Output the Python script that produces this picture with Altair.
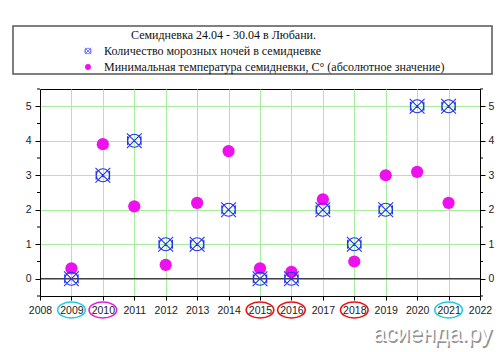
import altair as alt
import pandas as pd

years = [2009, 2010, 2011, 2012, 2013, 2014, 2015, 2016, 2017, 2018, 2019, 2020, 2021]
frost_nights = [0, 3, 4, 1, 1, 2, 0, 0, 2, 1, 2, 5, 5]
min_temp_abs = [0.3, 3.9, 2.1, 0.4, 2.2, 3.7, 0.3, 0.2, 2.3, 0.5, 3.0, 3.1, 2.2]

x_ticks = list(range(2008, 2023))
y_ticks = [0, 1, 2, 3, 4, 5]
y_minor = [-0.5, 0.5, 1.5, 2.5, 3.5, 4.5, 5.5]

hl_years = [2009, 2010, 2015, 2016, 2018, 2021]
hl_group = ["a", "b", "c", "c", "c", "a"]

legend_title = "Семидневка 24.04 - 30.04 в Любани."
legend_labels = ["Количество морозных ночей в семидневке",
                 "Минимальная температура семидневки, С° (абсолютное значение)"]
watermark = "асиенда.ру"

df = pd.DataFrame({"year": years, "frost": frost_nights, "tmin": min_temp_abs})
df_hl = pd.DataFrame({"year": hl_years, "g": hl_group})

W, H = 440, 207
GRID = "#a6ee9e"
FONT = "Liberation Sans"
SERIF = "Liberation Serif"

xs = alt.Scale(domain=[2008, 2022], nice=False, zero=False)
ys = alt.Scale(domain=[-0.5, 5.5], nice=False, zero=False)

x_axis = alt.Axis(values=x_ticks, format="d", grid=True, gridColor=GRID, gridWidth=1,
                  domainColor="black", tickColor="black", tickSize=4,
                  labelFont=FONT, labelFontSize=10.5, labelColor="#222", labelPadding=5,
                  labelOverlap=False, labelBound=False, labelFlush=False,
                  title=None)
X = alt.X("year:Q", scale=xs, axis=x_axis)

left_axis = alt.Axis(values=y_ticks, grid=True, gridColor=GRID, gridWidth=1,
                     domainColor="black", tickColor="black", tickSize=5,
                     labelFont=FONT, labelFontSize=10.5, labelColor="#222", labelPadding=4,
                     labelOverlap=False, title=None, orient="left")
right_axis = alt.Axis(values=y_ticks, grid=False,
                      domainColor="black", tickColor="black", tickSize=5,
                      labelFont=FONT, labelFontSize=10.5, labelColor="#222", labelPadding=3,
                      labelOverlap=False, title=None, orient="right")

base = alt.Chart(df)

grid_left = base.mark_point(opacity=0).encode(
    x=X, y=alt.Y("frost:Q", scale=ys, axis=left_axis))
grid_right = base.mark_point(opacity=0).encode(
    x=X, y=alt.Y("frost:Q", scale=ys, axis=right_axis))

zero_line = alt.Chart(pd.DataFrame({"v": [0]})).mark_rule(color="black", strokeWidth=1).encode(
    y=alt.Y("v:Q", scale=ys, axis=None))

minor_l = alt.Chart(pd.DataFrame({"v": y_minor})).mark_rule(color="black", strokeWidth=1).encode(
    y=alt.Y("v:Q", scale=ys, axis=None), x=alt.value(-3), x2=alt.value(0))
minor_r = alt.Chart(pd.DataFrame({"v": y_minor})).mark_rule(color="black", strokeWidth=1).encode(
    y=alt.Y("v:Q", scale=ys, axis=None), x=alt.value(W), x2=alt.value(W + 3))

tmin_pts = base.mark_point(shape="circle", filled=True, color="#ee11ee", opacity=1, size=150).encode(
    x=X, y=alt.Y("tmin:Q", scale=ys, axis=None))

frost_shape = ("M -0.9 -0.9 L 0.9 0.9 M -0.9 0.9 L 0.9 -0.9 "
               "M -0.8 0 A 0.8 0.8 0 1 1 0.8 0 A 0.8 0.8 0 1 1 -0.8 0 "
               "M -0.82 -0.55 L -0.82 0.55 M 0.82 -0.55 L 0.82 0.55")
frost_pts = base.mark_point(shape=frost_shape, filled=False, color="#2233ee", strokeWidth=1.1,
                            opacity=1, size=270).encode(
    x=X, y=alt.Y("frost:Q", scale=ys, axis=None))

ellipse = "M -1 0 A 1 0.58 0 1 0 1 0 A 1 0.58 0 1 0 -1 0"
hl = alt.Chart(df_hl).mark_point(shape=ellipse, filled=False, strokeWidth=1.6, opacity=1,
                                 size=760).encode(
    x=X, y=alt.value(H + 14),
    color=alt.Color("g:N", scale=alt.Scale(domain=["a", "b", "c"],
                                           range=["#22ccdd", "#dd22dd", "#ee1111"]),
                    legend=None))

# legend box (drawn above the plot)
legend_box = alt.Chart(pd.DataFrame({"t": [legend_title]})).mark_rect(
    fill="white", stroke="#555", strokeWidth=1.5).encode(
    x=alt.value(-27), x2=alt.value(452), y=alt.value(-63), y2=alt.value(-15))
legend_t = alt.Chart(pd.DataFrame({"t": [legend_title]})).mark_text(
    font=SERIF, fontSize=12, color="#111", align="left", baseline="middle").encode(
    x=alt.value(91), y=alt.value(-54), text="t:N")
legend_l = alt.Chart(pd.DataFrame({"t": legend_labels, "yy": [-38, -22]})).mark_text(
    font=SERIF, fontSize=12, color="#111", align="left", baseline="middle").encode(
    x=alt.value(64), y=alt.Y("yy:Q", scale=alt.Scale(domain=[0, 1], range=[0, 1]), axis=None),
    text="t:N")
legend_m1 = alt.Chart(pd.DataFrame({"t": [legend_labels[0]]})).mark_point(
    shape=frost_shape, filled=False, color="#7777ff", strokeWidth=1, opacity=1, size=50).encode(
    x=alt.value(48), y=alt.value(-38))
legend_m2 = alt.Chart(pd.DataFrame({"t": [legend_labels[1]]})).mark_point(
    shape="circle", filled=True, color="#ee11ee", opacity=1, size=35).encode(
    x=alt.value(48), y=alt.value(-22))

wm_shadow = alt.Chart(pd.DataFrame({"t": [watermark]})).mark_text(
    font=FONT, fontSize=23, color="#777", align="right", baseline="middle",
    opacity=0.8, dx=1.5, dy=1.5).encode(
    x=alt.value(452), y=alt.value(245), text="t:N")
wm = alt.Chart(pd.DataFrame({"t": [watermark]})).mark_text(
    font=FONT, fontSize=23, color="white", align="right", baseline="middle").encode(
    x=alt.value(452), y=alt.value(245), text="t:N")

chart = alt.layer(
    grid_left, grid_right, zero_line, minor_l, minor_r, tmin_pts, frost_pts, hl,
    legend_box, legend_t, legend_l, legend_m1, legend_m2, wm_shadow, wm
).resolve_scale(y="independent", color="independent").properties(
    width=W, height=H,
    autosize=alt.AutoSizeParams(type="none"),
    padding={"left": 40, "top": 89, "right": 20, "bottom": 56},
    background="white",
).configure_view(stroke="black", strokeWidth=1)

chart.save("out.html", embed_options={"renderer": "svg", "actions": False})
